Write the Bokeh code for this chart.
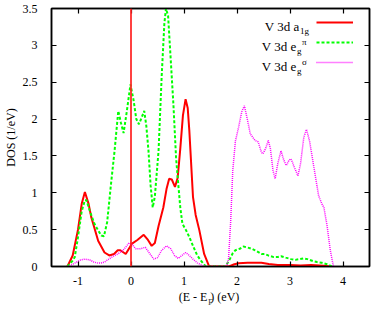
from bokeh.plotting import figure
from bokeh.models import (Range1d, FixedTicker, LinearAxis, Span, Label, Legend,
                          LegendItem, CustomJSTickFormatter)
from bokeh.embed import file_html
from bokeh.resources import INLINE

# ---- data ----
a1g_x = [-1.2, -1.1, -1.0, -0.93, -0.87, -0.8, -0.75, -0.62, -0.5, -0.41, -0.32, -0.25,
         -0.2, -0.1, 0.02, 0.12, 0.24, 0.32, 0.39, 0.45, 0.52, 0.61, 0.67, 0.72, 0.77,
         0.83, 0.88, 0.93, 0.98, 1.03, 1.07, 1.1, 1.17, 1.22, 1.29, 1.38, 1.47, 1.5,
         1.85, 1.95, 2.03, 2.2, 2.46, 2.6, 2.77, 3.0, 3.2, 3.4, 3.63, 3.75]
a1g_y = [0.0, 0.15, 0.5, 0.85, 1.01, 0.85, 0.67, 0.35, 0.19, 0.15, 0.17, 0.22,
         0.22, 0.17, 0.31, 0.36, 0.43, 0.36, 0.28, 0.32, 0.55, 0.8, 1.05, 1.19, 1.18,
         1.08, 1.2, 1.6, 2.05, 2.27, 2.15, 1.85, 0.94, 0.7, 0.49, 0.17, 0.01, 0.0,
         0.0, 0.03, 0.045, 0.05, 0.05, 0.035, 0.02, 0.02, 0.015, 0.02, 0.01, 0.0]

egpi_x = [-1.2, -1.1, -1.06, -1.0, -0.93, -0.87, -0.84, -0.78, -0.69, -0.62, -0.56, -0.51,
          -0.45, -0.38, -0.31, -0.24, -0.19, -0.14, -0.08, -0.01, 0.05, 0.1, 0.15, 0.2,
          0.25, 0.29, 0.33, 0.37, 0.41, 0.45, 0.52, 0.58, 0.63, 0.66, 0.7, 0.75, 0.8,
          0.85, 0.89, 0.93, 0.97, 1.04, 1.1, 1.17, 1.25, 1.32, 1.41, 1.78, 1.85, 1.92,
          1.97, 2.05, 2.12, 2.19, 2.28, 2.34, 2.46, 2.52, 2.59, 2.68, 2.77, 2.83, 2.92,
          3.02, 3.1, 3.18, 3.26, 3.33, 3.45, 3.51, 3.6, 3.7, 3.76, 3.8]
egpi_y = [0.0, 0.08, 0.13, 0.4, 0.75, 0.9, 0.9, 0.76, 0.58, 0.49, 0.42, 0.41,
          0.6, 1.1, 1.57, 2.11, 1.95, 1.81, 2.1, 2.47, 2.25, 2.0, 1.93, 2.02,
          2.11, 1.9, 1.57, 1.1, 0.8, 0.95, 1.57, 2.6, 3.3, 3.5, 3.4, 2.8, 2.2,
          1.48, 1.13, 0.8, 0.58, 0.49, 0.4, 0.28, 0.15, 0.08, 0.0, 0.0, 0.08, 0.18,
          0.22, 0.24, 0.27, 0.26, 0.24, 0.22, 0.17, 0.17, 0.15, 0.13, 0.13, 0.14, 0.12,
          0.1, 0.09, 0.1, 0.11, 0.1, 0.07, 0.06, 0.05, 0.03, 0.01, 0.0]

egsig_x = [-1.2, -1.15, -1.05, -0.95, -0.87, -0.78, -0.7, -0.62, -0.55, -0.5, -0.42, -0.33,
           -0.25, -0.15, -0.08, -0.04, 0.02, 0.09, 0.17, 0.27, 0.35, 0.43, 0.5, 0.58,
           0.67, 0.75, 0.82, 0.89, 0.96, 1.03, 1.1, 1.17, 1.25, 1.35, 1.42, 1.8, 1.84,
           1.88, 1.92, 1.97, 2.03, 2.09, 2.14, 2.2, 2.25, 2.34, 2.4, 2.46, 2.49, 2.54,
           2.59, 2.63, 2.68, 2.72, 2.77, 2.83, 2.88, 2.93, 2.98, 3.02, 3.08, 3.15, 3.2,
           3.26, 3.31, 3.37, 3.45, 3.54, 3.6, 3.64, 3.7, 3.76, 3.82]
egsig_y = [0.0, 0.01, 0.05, 0.09, 0.1, 0.09, 0.06, 0.045, 0.05, 0.06, 0.1, 0.14,
           0.17, 0.22, 0.28, 0.32, 0.3, 0.24, 0.24, 0.26, 0.18, 0.1, 0.12, 0.22,
           0.28, 0.24, 0.15, 0.11, 0.15, 0.19, 0.15, 0.1, 0.05, 0.01, 0.0, 0.0, 0.1,
           0.6, 1.3, 1.7, 1.89, 2.1, 2.18, 1.98, 1.8, 1.71, 1.69, 1.55, 1.53, 1.6,
           1.71, 1.6, 1.3, 1.19, 1.4, 1.57, 1.45, 1.37, 1.44, 1.46, 1.35, 1.23, 1.4,
           1.75, 1.86, 1.7, 1.35, 0.96, 0.85, 0.8, 0.55, 0.22, 0.0]

fermi_level = 0.0
x_ticks = [-1, 0, 1, 2, 3, 4]
y_ticks = [0, 0.5, 1, 1.5, 2, 2.5, 3, 3.5]
x_lim = (-1.5, 4.5)
y_lim = (0, 3.5)

FONT = "Liberation Serif"

p = figure(width=374, height=310, output_backend="svg", toolbar_location=None,
           x_range=Range1d(*x_lim), y_range=Range1d(*y_lim),
           min_border_left=46, min_border_right=5, min_border_top=8, min_border_bottom=44)
p.grid.visible = False
p.outline_line_color = "black"
p.outline_line_width = 1.5
p.background_fill_color = "white"
p.border_fill_color = "white"

fmt = CustomJSTickFormatter(code="return String(Math.round(tick*10)/10)")
blank = CustomJSTickFormatter(code="return ''")

for ax in (p.xaxis[0], p.yaxis[0]):
    ax.formatter = fmt
    ax.major_tick_in = 5
    ax.major_tick_out = 0
    ax.minor_tick_line_color = None
    ax.axis_line_width = 1.5
    ax.major_tick_line_width = 1.2
    ax.major_label_text_font = FONT
    ax.major_label_text_font_size = "12px"
    ax.major_label_text_color = "black"
    ax.axis_label_text_font = FONT
    ax.axis_label_text_font_size = "12px"
    ax.axis_label_text_font_style = "normal"
    ax.axis_label_text_color = "black"
p.xaxis[0].ticker = FixedTicker(ticks=x_ticks)
p.yaxis[0].ticker = FixedTicker(ticks=y_ticks)
p.xaxis[0].major_label_standoff = 10
p.yaxis[0].major_label_standoff = 14
p.yaxis[0].axis_label = "DOS (1/eV)"
p.yaxis[0].axis_label_standoff = 2
# x label: "(E - E_F) (eV)" -> main text with a gap, subscript F on a second (bare) axis
p.xaxis[0].axis_label = "(E - E  ) (eV)"
p.xaxis[0].axis_label_standoff = 2

sub_ax = LinearAxis(ticker=FixedTicker(ticks=[]), formatter=blank, axis_label="F",
                    axis_line_color=None, major_tick_line_color=None,
                    minor_tick_line_color=None, major_label_standoff=0,
                    major_tick_in=0, major_tick_out=0,
                    axis_label_text_font=FONT, axis_label_text_font_size="9px",
                    axis_label_text_font_style="normal", axis_label_standoff=-10)
p.add_layout(sub_ax, "below")

top_ax = LinearAxis(ticker=FixedTicker(ticks=x_ticks), formatter=blank,
                    major_tick_in=5, major_tick_out=0, minor_tick_line_color=None,
                    major_label_standoff=0, axis_line_width=1.5, major_tick_line_width=1.2)
right_ax = LinearAxis(ticker=FixedTicker(ticks=y_ticks), formatter=blank,
                      major_tick_in=5, major_tick_out=0, minor_tick_line_color=None,
                      major_label_standoff=0, axis_line_width=1.5, major_tick_line_width=1.2)
p.add_layout(top_ax, "above")
p.add_layout(right_ax, "right")

r1 = p.line(a1g_x, a1g_y, line_color="#ff0000", line_width=2)
r2 = p.line(egpi_x, egpi_y, line_color="#00ff00", line_width=2, line_dash="3 2")
r3 = p.line(egsig_x, egsig_y, line_color="#ff00ff", line_width=1.5, line_dash="1 1")

p.add_layout(Span(location=fermi_level, dimension="height", line_color="#ff2020",
                  line_width=2, line_alpha=0.85))

legend = Legend(items=[LegendItem(label=" ", renderers=[r1]),
                       LegendItem(label=" ", renderers=[r2]),
                       LegendItem(label=" ", renderers=[r3])],
                location="top_right", margin=4, padding=0, spacing=0,
                glyph_width=37, glyph_height=20, label_width=12, label_height=20,
                label_standoff=0, label_text_font_size="1px",
                border_line_color=None, background_fill_alpha=0)
p.add_layout(legend)

# legend texts (with sub/superscripts)
rows = [("V 3d a", "1g", None), ("V 3d e", "g", "\u03c0"), ("V 3d e", "g", "\u03c3")]
for i, (main, sub, sup) in enumerate(rows):
    base = -(18 + 20 * i)
    xo = -70 if sup is None else -73
    p.add_layout(Label(x=x_lim[1], y=y_lim[1], x_offset=xo, y_offset=base, text=main,
                       text_align="right", text_baseline="alphabetic",
                       text_font=FONT, text_font_size="13px", text_color="black"))
    p.add_layout(Label(x=x_lim[1], y=y_lim[1], x_offset=xo + 0.5, y_offset=base - 4, text=sub,
                       text_align="left", text_baseline="alphabetic",
                       text_font=FONT, text_font_size="9px", text_color="black"))
    if sup:
        p.add_layout(Label(x=x_lim[1], y=y_lim[1], x_offset=xo + 5.5, y_offset=base + 5, text=sup,
                           text_align="left", text_baseline="alphabetic",
                           text_font=FONT, text_font_size="9px", text_color="black"))

open("out.html", "w").write(file_html(p, INLINE))
